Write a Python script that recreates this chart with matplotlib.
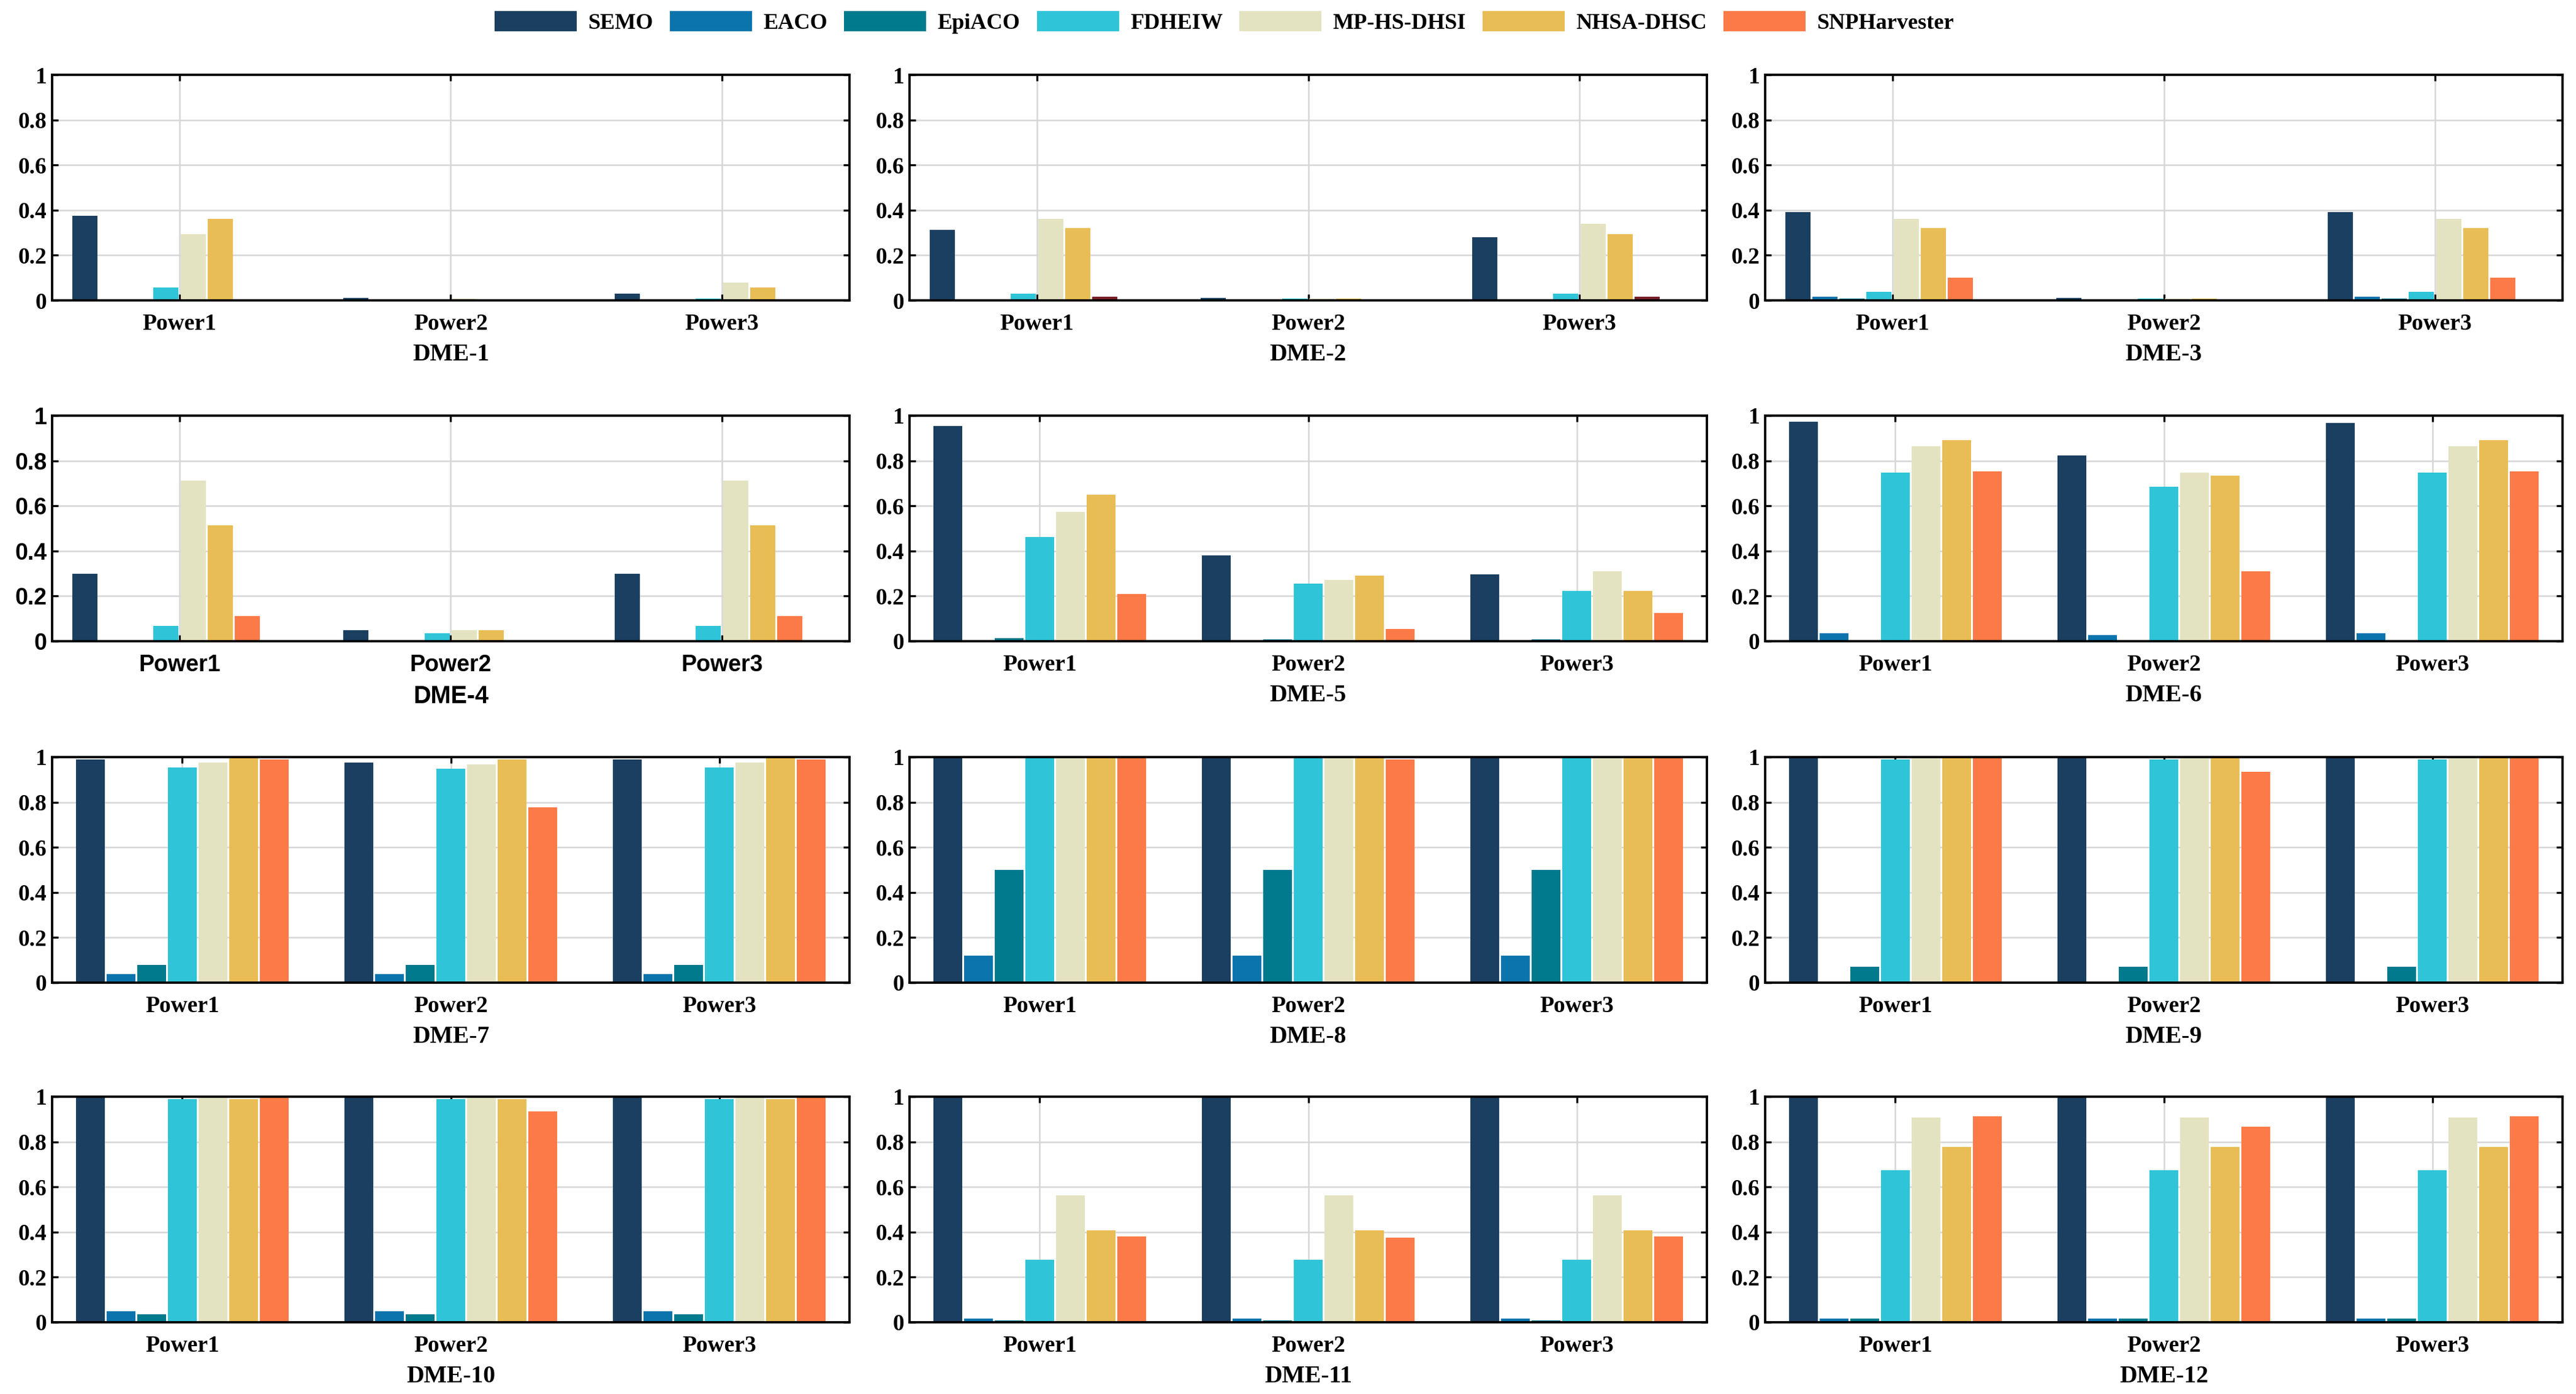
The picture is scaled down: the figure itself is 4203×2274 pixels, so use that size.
import matplotlib
matplotlib.use("Agg")
import matplotlib.pyplot as plt
from matplotlib.patches import Patch

# ---------------- data ----------------
methods = ["SEMO", "EACO", "EpiACO", "FDHEIW", "MP-HS-DHSI", "NHSA-DHSC", "SNPHarvester"]
categories = ["Power1", "Power2", "Power3"]
datasets = ["DME-1", "DME-2", "DME-3", "DME-4", "DME-5", "DME-6",
            "DME-7", "DME-8", "DME-9", "DME-10", "DME-11", "DME-12"]
yticks = [0, 0.2, 0.4, 0.6, 0.8, 1]
ytick_labels = ["0", "0.2", "0.4", "0.6", "0.8", "1"]

# each row: one method, values for Power1, Power2, Power3
dme1 = [[0.375, 0.010, 0.031],
        [0.000, 0.000, 0.000],
        [0.000, 0.000, 0.000],
        [0.058, 0.000, 0.008],
        [0.294, 0.007, 0.078],
        [0.362, 0.000, 0.058],
        [0.000, 0.000, 0.000]]
dme2 = [[0.313, 0.010, 0.280],
        [0.000, 0.000, 0.000],
        [0.000, 0.000, 0.000],
        [0.031, 0.008, 0.031],
        [0.362, 0.008, 0.341],
        [0.322, 0.008, 0.294],
        [0.017, 0.000, 0.017]]
dme3 = [[0.390, 0.010, 0.390],
        [0.017, 0.000, 0.017],
        [0.008, 0.000, 0.008],
        [0.038, 0.008, 0.038],
        [0.362, 0.008, 0.362],
        [0.322, 0.008, 0.322],
        [0.100, 0.000, 0.100]]
dme4 = [[0.298, 0.050, 0.298],
        [0.000, 0.000, 0.000],
        [0.000, 0.000, 0.000],
        [0.068, 0.036, 0.068],
        [0.713, 0.050, 0.713],
        [0.513, 0.050, 0.513],
        [0.111, 0.000, 0.111]]
dme5 = [[0.953, 0.381, 0.297],
        [0.000, 0.000, 0.000],
        [0.014, 0.008, 0.008],
        [0.463, 0.256, 0.222],
        [0.574, 0.271, 0.311],
        [0.650, 0.291, 0.222],
        [0.208, 0.055, 0.125]]
dme6 = [[0.974, 0.823, 0.967],
        [0.036, 0.028, 0.036],
        [0.000, 0.000, 0.000],
        [0.747, 0.684, 0.747],
        [0.864, 0.747, 0.864],
        [0.892, 0.733, 0.892],
        [0.753, 0.311, 0.753]]
dme7 = [[0.989, 0.976, 0.989],
        [0.038, 0.038, 0.038],
        [0.079, 0.079, 0.079],
        [0.954, 0.949, 0.954],
        [0.976, 0.968, 0.976],
        [1.000, 0.989, 1.000],
        [0.989, 0.776, 0.989]]
dme8 = [[1.000, 1.000, 1.000],
        [0.120, 0.120, 0.120],
        [0.500, 0.500, 0.500],
        [1.000, 1.000, 1.000],
        [1.000, 1.000, 1.000],
        [1.000, 1.000, 1.000],
        [1.000, 0.989, 1.000]]
dme9 = [[1.000, 1.000, 1.000],
        [0.000, 0.000, 0.000],
        [0.072, 0.072, 0.072],
        [0.989, 0.989, 0.989],
        [1.000, 1.000, 1.000],
        [1.000, 1.000, 1.000],
        [1.000, 0.935, 1.000]]
dme10 = [[1.000, 1.000, 1.000],
         [0.049, 0.049, 0.049],
         [0.036, 0.036, 0.036],
         [0.989, 0.989, 0.989],
         [1.000, 1.000, 1.000],
         [0.989, 0.989, 0.989],
         [1.000, 0.934, 1.000]]
dme11 = [[1.000, 1.000, 1.000],
         [0.015, 0.015, 0.015],
         [0.007, 0.007, 0.007],
         [0.277, 0.277, 0.277],
         [0.562, 0.562, 0.562],
         [0.407, 0.407, 0.407],
         [0.381, 0.374, 0.381]]
dme12 = [[1.000, 1.000, 1.000],
         [0.015, 0.015, 0.015],
         [0.015, 0.015, 0.015],
         [0.673, 0.673, 0.673],
         [0.908, 0.908, 0.908],
         [0.776, 0.776, 0.776],
         [0.914, 0.866, 0.914]]

panel_values = [dme1, dme2, dme3, dme4, dme5, dme6,
                dme7, dme8, dme9, dme10, dme11, dme12]

# ---------------- style ----------------
colors = ["#1a3f60", "#0b74ad", "#027a8d", "#2fc4d7", "#e4e3c1", "#e9bd55", "#fc7a47"]
# number of bar slots per group used by each panel (first row uses 8 slots)
panel_slots = [8, 8, 8, 8, 7, 7, 7, 7, 7, 7, 7, 7]
serif = "Liberation Serif"
sans = "Liberation Sans"
panel_fonts = [serif, serif, serif, sans] + [serif] * 8
color_override = {1: {6: "#7a1f28"}}  # DME-2 small SNPHarvester bars render dark

W, H = 4203, 2274
fig = plt.figure(figsize=(W / 300, H / 300), dpi=300)

col_left_px = [85, 1484, 2880]
col_width_px = 1301
row_top_px = [122, 678, 1235, 1789]
row_height_px = 368

tick_fs = 9.0
label_fs = 9.5

for k, (name, vals) in enumerate(zip(datasets, panel_values)):
    r, c = divmod(k, 3)
    left = col_left_px[c] / W
    bottom = 1 - (row_top_px[r] + row_height_px) / H
    ax = fig.add_axes([left, bottom, col_width_px / W, row_height_px / H])
    nslots = panel_slots[k]
    spacing = 0.8 / nslots
    x = [1, 2, 3]
    for i, m in enumerate(methods):
        off = (i - (nslots - 1) / 2) * spacing
        col = color_override.get(k, {}).get(i, colors[i])
        ax.bar([xx + off for xx in x], vals[i], width=spacing * 0.93,
               color=col, edgecolor="none", linewidth=0, zorder=2)
    if nslots == 8:
        ax.set_xlim(0.53, 3.47)
    else:
        ax.set_xlim(0.515, 3.485)
    ax.set_ylim(0, 1)
    fam = panel_fonts[k]
    ax.set_xticks(x)
    ax.set_xticklabels(categories, fontfamily=fam, fontweight="bold", fontsize=tick_fs)
    ax.set_yticks(yticks)
    ax.set_yticklabels(ytick_labels, fontfamily=fam, fontweight="bold", fontsize=tick_fs)
    ax.set_xlabel(name, fontfamily=fam, fontweight="bold", fontsize=label_fs, labelpad=3.5)
    ax.grid(True, color="#d6d6d6", linewidth=0.6)
    ax.set_axisbelow(True)
    ax.tick_params(axis="both", direction="in", length=2.5, width=0.8,
                   top=True, right=True, color="black")
    ax.tick_params(axis="x", pad=5)
    ax.tick_params(axis="y", pad=2)
    for sp in ax.spines.values():
        sp.set_linewidth(0.9)
        sp.set_color("black")
        sp.set_zorder(3)

handles = [Patch(facecolor=colors[i], edgecolor="none", label=m) for i, m in enumerate(methods)]
fig.legend(handles=handles, loc="center", bbox_to_anchor=(0.4753, 0.984), ncol=7,
           frameon=False, handlelength=3.7, handleheight=1.05, handletextpad=0.5,
           columnspacing=0.75, prop={"family": serif, "weight": "bold", "size": 8.7})

fig.savefig("out.png", dpi=300)
